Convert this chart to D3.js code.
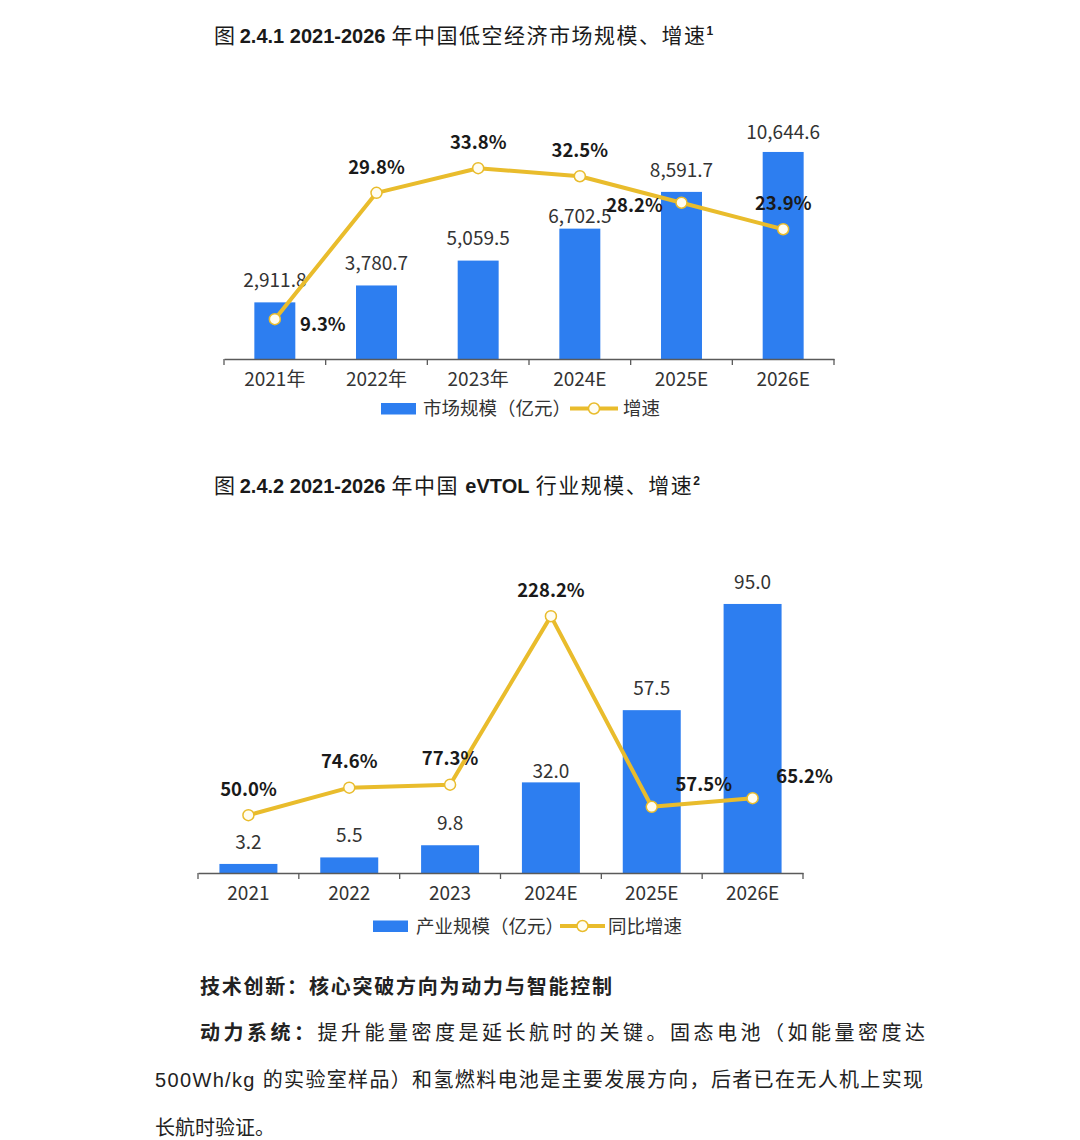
<!DOCTYPE html>
<html>
<head>
<meta charset="utf-8">
<script src="https://cdn.jsdelivr.net/npm/d3@7"></script>
<style>
  html, body { margin: 0; padding: 0; background: #fff; }
  svg { display: block; }
</style>
</head>
<body>
<svg id="page" width="1080" height="1140"></svg>
<script>
// chart 1 - 低空经济
var years1 = ["2021年", "2022年", "2023年", "2024E", "2025E", "2026E"];
var marketSize = [2911.8, 3780.7, 5059.5, 6702.5, 8591.7, 10644.6];
var marketGrowth = [9.3, 29.8, 33.8, 32.5, 28.2, 23.9];

// chart 2 - eVTOL
var years2 = ["2021", "2022", "2023", "2024E", "2025E", "2026E"];
var evtolSize = [3.2, 5.5, 9.8, 32.0, 57.5, 95.0];
var evtolGrowth = [50.0, 74.6, 77.3, 228.2, 57.5, 65.2];

var CJK = '"Noto Sans CJK SC", "Noto Sans", sans-serif';
var LAT = '"Liberation Sans", Arial, sans-serif';
var BLUE = "#2d7ef0";
var GOLD = "#e9bc2c";

var svg = d3.select("#page");
svg.append("rect").attr("width", 1080).attr("height", 1140).attr("fill", "#fff");

// where a growth label sits relative to its point
var placeOffset = {
  top: [0, -26],
  right: [48, 5],
  left: [-47, 3],
  topright: [52, -22]
};

function drawTitle(y, parts) {
  var t = svg.append("text")
    .attr("x", 214).attr("y", y)
    .attr("fill", "#1a1a1a")
    .attr("font-size", 21);
  parts.forEach(function(p) {
    var s = t.append("tspan").text(p.t);
    if (p.b) {
      s.attr("font-family", LAT).attr("font-weight", 700).attr("font-size", 20);
    } else if (p.sup) {
      s.attr("font-family", LAT).attr("font-weight", 700).attr("font-size", 12).attr("dy", -8);
    } else {
      s.attr("font-family", CJK).attr("letter-spacing", p.ls || 0);
    }
  });
}

function drawChart(cfg) {
  var g = svg.append("g");

  var x = d3.scaleBand()
    .domain(cfg.cats)
    .range([cfg.x0, cfg.x1])
    .paddingInner(cfg.pad)
    .paddingOuter(cfg.pad / 2);

  var yBar = d3.scaleLinear().domain(cfg.barDomain).range([cfg.base, cfg.barTop]);
  var yLine = d3.scaleLinear().domain(cfg.lineDomain).range([cfg.lineBase, cfg.lineTop]);

  var rows = cfg.cats.map(function(c, i) {
    return {cat: c, v: cfg.bars[i], g: cfg.growth[i], i: i};
  });

  // bars
  g.append("g").selectAll("rect")
    .data(rows)
    .join("rect")
    .attr("x", d => x(d.cat))
    .attr("y", d => yBar(d.v))
    .attr("width", x.bandwidth())
    .attr("height", d => yBar(0) - yBar(d.v))
    .attr("fill", BLUE);

  // bar labels
  g.append("g").selectAll("text")
    .data(rows)
    .join("text")
    .attr("x", d => x(d.cat) + x.bandwidth() / 2)
    .attr("y", d => yBar(d.v) - cfg.barGap[d.i])
    .attr("dy", "0.36em")
    .attr("text-anchor", "middle")
    .attr("font-family", CJK)
    .attr("font-size", 19)
    .attr("fill", "#333")
    .text(d => cfg.fmt(d.v));

  // x axis
  var axis = g.append("g")
    .attr("transform", `translate(0,${cfg.base})`)
    .call(d3.axisBottom(x).tickSize(0).tickSizeOuter(0).tickPadding(14));
  axis.select(".domain").attr("stroke", "#5a5a5a").attr("stroke-width", 1.3);
  axis.selectAll(".tick text")
    .attr("font-family", CJK)
    .attr("font-size", 19)
    .attr("fill", "#333");

  var bounds = cfg.cats.map(c => x(c) - x.step() * x.paddingInner() / 2);
  bounds.push(x.range()[1]);
  axis.selectAll(".bound")
    .data(bounds)
    .join("line")
    .attr("class", "bound")
    .attr("x1", d => d).attr("x2", d => d)
    .attr("y1", 0).attr("y2", 6)
    .attr("stroke", "#5a5a5a").attr("stroke-width", 1.3);

  // growth line
  var line = d3.line()
    .x(d => x(d.cat) + x.bandwidth() / 2)
    .y(d => yLine(d.g));
  g.append("path")
    .datum(rows)
    .attr("d", line)
    .attr("fill", "none")
    .attr("stroke", GOLD)
    .attr("stroke-width", 4)
    .attr("stroke-linejoin", "round");

  g.append("g").selectAll("circle")
    .data(rows)
    .join("circle")
    .attr("cx", d => x(d.cat) + x.bandwidth() / 2)
    .attr("cy", d => yLine(d.g))
    .attr("r", 5.5)
    .attr("fill", "#fffdf2")
    .attr("stroke", GOLD)
    .attr("stroke-width", 1.5);

  g.append("g").selectAll("text")
    .data(rows)
    .join("text")
    .attr("x", d => x(d.cat) + x.bandwidth() / 2 + placeOffset[cfg.place[d.i]][0])
    .attr("y", d => yLine(d.g) + placeOffset[cfg.place[d.i]][1])
    .attr("dy", "0.36em")
    .attr("text-anchor", "middle")
    .attr("font-family", CJK)
    .attr("font-weight", 700)
    .attr("font-size", 18.5)
    .attr("fill", "#1a1a1a")
    .text(d => d.g.toFixed(1) + "%");

  // legend
  var lg = g.append("g").attr("transform", `translate(0,${cfg.legY})`);
  lg.append("rect")
    .attr("x", cfg.leg[0]).attr("y", -5.5)
    .attr("width", 35).attr("height", 11.5)
    .attr("fill", BLUE);
  lg.append("text")
    .attr("x", cfg.leg[1]).attr("dy", "0.36em")
    .attr("font-family", CJK).attr("font-size", 18.5).attr("fill", "#333")
    .text(cfg.barName);
  lg.append("line")
    .attr("x1", cfg.leg[2]).attr("x2", cfg.leg[3])
    .attr("stroke", GOLD).attr("stroke-width", 4);
  lg.append("circle")
    .attr("cx", (cfg.leg[2] + cfg.leg[3]) / 2)
    .attr("r", 5.5)
    .attr("fill", "#fffdf2").attr("stroke", GOLD).attr("stroke-width", 1.5);
  lg.append("text")
    .attr("x", cfg.leg[4]).attr("dy", "0.36em")
    .attr("font-family", CJK).attr("font-size", 18.5).attr("fill", "#333")
    .text(cfg.lineName);
}

drawTitle(43, [
  {t: "图 "},
  {t: "2.4.1 2021-2026", b: true},
  {t: " 年中国低空经济市场规模、增速", ls: 1.5},
  {t: "1", sup: true}
]);

drawChart({
  cats: years1, bars: marketSize, growth: marketGrowth,
  x0: 224, x1: 834, pad: 0.597, base: 359,
  barDomain: [0, 12000], barTop: 125.6,
  lineDomain: [3, 40], lineBase: 358, lineTop: 130,
  fmt: d3.format(",.1f"),
  barGap: [22, 22, 22, 12, 22, 20],
  place: ["right", "top", "top", "top", "left", "top"],
  legY: 408.5, leg: [381, 423, 570, 618, 623],
  barName: "市场规模（亿元）", lineName: "增速"
});

drawTitle(493, [
  {t: "图 "},
  {t: "2.4.2 2021-2026", b: true},
  {t: " 年中国 ", ls: 1.5},
  {t: "eVTOL", b: true},
  {t: " 行业规模、增速", ls: 1.5},
  {t: "2", sup: true}
]);

drawChart({
  cats: years2, bars: evtolSize, growth: evtolGrowth,
  x0: 198, x1: 803, pad: 0.425, base: 873,
  barDomain: [0, 100], barTop: 589.8,
  lineDomain: [0, 250], lineBase: 871, lineTop: 591.8,
  fmt: d3.format(".1f"),
  barGap: [22, 22, 22, 11, 22, 22],
  place: ["top", "top", "top", "top", "topright", "topright"],
  legY: 926, leg: [373, 416, 560, 605, 608],
  barName: "产业规模（亿元）", lineName: "同比增速"
});

// body text under the charts
var body = [
  {x: 200, y: 987, w: 412, parts: [{t: "技术创新：核心突破方向为动力与智能控制", b: true}]},
  {x: 200, y: 1033, w: 725, parts: [{t: "动力系统：", b: true}, {t: "提升能量密度是延长航时的关键。固态电池（如能量密度达"}]},
  {x: 155, y: 1080, w: 768, parts: [{t: "500Wh/kg ", lat: true}, {t: "的实验室样品）和氢燃料电池是主要发展方向，后者已在无人机上实现"}]},
  {x: 155, y: 1128, w: 0, parts: [{t: "长航时验证。"}]}
];

body.forEach(function(line) {
  var t = svg.append("text")
    .attr("x", line.x).attr("y", line.y)
    .attr("dy", "0.36em")
    .attr("font-family", CJK)
    .attr("font-size", 20)
    .attr("fill", "#222");
  if (line.w) t.attr("textLength", line.w).attr("lengthAdjust", "spacing");
  line.parts.forEach(function(p) {
    var s = t.append("tspan").text(p.t);
    if (p.b) s.attr("font-weight", 700);
    if (p.lat) s.attr("font-family", LAT);
  });
});
</script>
</body>
</html>
